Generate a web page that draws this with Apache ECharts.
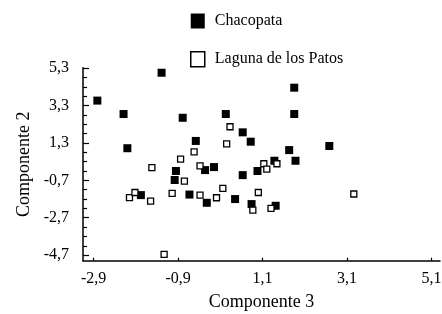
<!DOCTYPE html>
<html>
<head>
<meta charset="utf-8">
<script src="https://cdn.jsdelivr.net/npm/echarts@6/dist/echarts.min.js"></script>
<style>
    html, body {margin: 0; padding: 0; background: #fff;}
    #main {width: 442px; height: 314px;}
</style>
</head>
<body>
<div id="main"></div>
<script>
var seriesNames = ['Chacopata', 'Laguna de los Patos'];
// [Componente 3, Componente 2]
var chacopata = [
    [-2.81, 3.57], [-1.29, 5.06], [-2.19, 2.85], [-0.79, 2.65], [0.23, 2.85], [0.63, 1.87],
    [0.82, 1.37], [-0.48, 1.41], [-2.10, 1.02], [-0.95, -0.20], [-0.26, -0.15], [-0.05, 0.01],
    [-0.98, -0.68], [0.63, -0.42], [0.98, -0.20], [-1.78, -1.49], [-0.63, -1.46], [0.45, -1.70],
    [-0.22, -1.90], [0.84, -1.97], [1.41, -2.06], [1.85, 4.26], [1.85, 2.85], [1.73, 0.92],
    [2.68, 1.14], [1.38, 0.35], [1.88, 0.35]
];
var laguna = [
    [0.33, 2.17], [0.25, 1.25], [-0.52, 0.83], [-0.84, 0.44], [-1.52, -0.02], [-0.38, 0.08],
    [-0.75, -0.74], [-2.05, -1.62], [-1.92, -1.35], [-1.55, -1.81], [-1.04, -1.40], [-0.38, -1.49],
    [0.01, -1.63], [0.16, -1.13], [0.87, -2.29], [1.00, -1.35], [-1.23, -4.66], [1.13, 0.19],
    [1.20, -0.10], [1.44, 0.19], [1.30, -2.20], [3.26, -1.43]
];
var xTicks = [-2.9, -0.9, 1.1, 3.1, 5.1];
var yTicks = [-4.7, -2.7, -0.7, 1.3, 3.3, 5.3];
var yMinorTicks = [-4.2, -3.7, -3.2, -2.2, -1.7, -1.2, -0.2, 0.3, 0.8, 1.8, 2.3, 2.8, 3.8, 4.3, 4.8];

var font = 'Liberation Serif';
function comma(v) {
    return v.toFixed(1).replace('.', ',');
}

var mChart = echarts.init(document.getElementById('main'));
var tickStyle = {color: '#000', width: 1.2};
var labelStyle = {color: '#000', fontFamily: font, fontSize: 16, formatter: comma};
var nameStyle = {fontFamily: font, fontSize: 18, color: '#000'};
var option = {
    animation: false,
    backgroundColor: '#fff',
    grid: {left: 83, right: 2, top: 67.7, bottom: 53.3, outerBoundsMode: 'none', containLabel: false},
    legend: {
        orient: 'vertical',
        left: 190,
        top: 13,
        padding: 0,
        itemWidth: 14,
        itemHeight: 15,
        itemGap: 22,
        icon: 'rect',
        textStyle: {fontFamily: font, fontSize: 16, color: '#000', padding: [0, 0, 0, 5]},
        data: [
            {name: seriesNames[0], itemStyle: {color: '#000'}},
            {name: seriesNames[1], itemStyle: {color: '#fff', borderColor: '#000', borderWidth: 1.5}}
        ]
    },
    xAxis: {
        type: 'value',
        min: -3.15, max: 5.3,
        name: 'Componente 3', nameLocation: 'middle', nameGap: 33, nameTextStyle: nameStyle,
        axisLine: {show: true, onZero: false, lineStyle: {color: '#000', width: 1.5}},
        axisTick: {show: true, inside: true, length: 3, customValues: xTicks, lineStyle: tickStyle},
        axisLabel: Object.assign({margin: 10, customValues: xTicks}, labelStyle),
        splitLine: {show: false}
    },
    yAxis: [
        {
            type: 'value',
            min: -5.0, max: 5.33,
            name: 'Componente 2', nameLocation: 'middle', nameGap: 46, nameTextStyle: nameStyle,
            axisLine: {show: true, onZero: false, lineStyle: {color: '#000', width: 1.5}},
            axisTick: {show: true, inside: true, length: 6, customValues: yTicks, lineStyle: tickStyle},
            axisLabel: Object.assign({margin: 14, customValues: yTicks}, labelStyle),
            splitLine: {show: false}
        },
        {
            // minor ticks only
            type: 'value',
            position: 'left',
            min: -5.0, max: 5.33,
            axisLine: {show: false, onZero: false},
            axisTick: {show: true, inside: true, length: 4, customValues: yMinorTicks, lineStyle: tickStyle},
            axisLabel: {show: false},
            splitLine: {show: false}
        }
    ],
    series: [
        {
            name: seriesNames[0],
            type: 'scatter',
            symbol: 'rect',
            symbolSize: 8,
            clip: false,
            itemStyle: {color: '#000', opacity: 1},
            data: chacopata
        },
        {
            name: seriesNames[1],
            type: 'scatter',
            symbol: 'rect',
            symbolSize: 6,
            clip: false,
            itemStyle: {color: '#fff', borderColor: '#000', borderWidth: 1.3, opacity: 1},
            data: laguna
        }
    ]
};
mChart.setOption(option);
</script>
</body>
</html>
